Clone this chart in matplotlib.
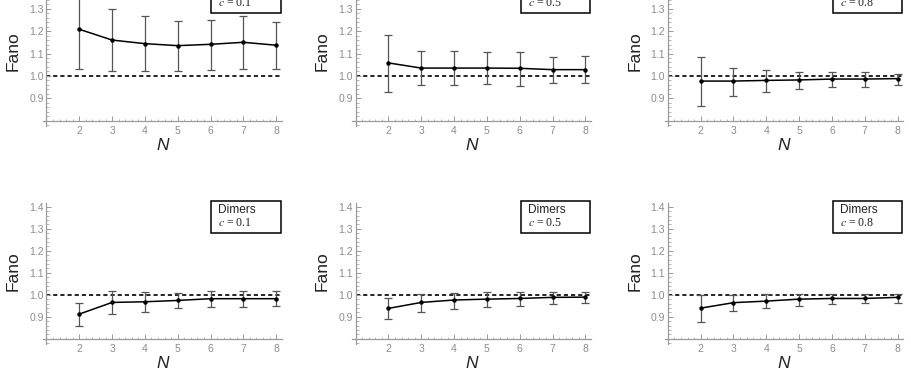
import matplotlib
matplotlib.use("Agg")
import matplotlib.pyplot as plt
import matplotlib.ticker as mticker
from matplotlib.patches import Rectangle
import numpy as np

plt.rcParams["font.family"] = ["Liberation Sans", "DejaVu Sans"]
plt.rcParams["mathtext.fontset"] = "stix"

# --- Data ---
N = [2, 3, 4, 5, 6, 7, 8]
c_values = ["0.1", "0.5", "0.8"]
# top row is cropped in the reference: its first box line is not visible
row_labels = ["", "Dimers"]

# top row
mono_01_mean = [1.208, 1.160, 1.144, 1.135, 1.141, 1.150, 1.137]
mono_01_lo = [1.031, 1.022, 1.021, 1.021, 1.026, 1.029, 1.029]
mono_01_hi = [1.385, 1.299, 1.269, 1.246, 1.251, 1.269, 1.242]

mono_05_mean = [1.058, 1.035, 1.035, 1.035, 1.034, 1.028, 1.028]
mono_05_lo = [0.927, 0.959, 0.961, 0.964, 0.955, 0.970, 0.967]
mono_05_hi = [1.184, 1.111, 1.110, 1.105, 1.108, 1.086, 1.090]

mono_08_mean = [0.977, 0.977, 0.980, 0.982, 0.986, 0.986, 0.988]
mono_08_lo = [0.866, 0.912, 0.929, 0.940, 0.949, 0.949, 0.961]
mono_08_hi = [1.084, 1.037, 1.026, 1.017, 1.019, 1.017, 1.008]

# bottom row (dimers)
dim_01_mean = [0.912, 0.965, 0.968, 0.974, 0.982, 0.982, 0.982]
dim_01_lo = [0.858, 0.911, 0.923, 0.938, 0.942, 0.945, 0.948]
dim_01_hi = [0.962, 1.018, 1.012, 1.008, 1.017, 1.017, 1.017]

dim_05_mean = [0.938, 0.965, 0.976, 0.980, 0.983, 0.988, 0.989]
dim_05_lo = [0.888, 0.920, 0.936, 0.945, 0.948, 0.959, 0.961]
dim_05_hi = [0.983, 1.005, 1.009, 1.012, 1.014, 1.014, 1.012]

dim_08_mean = [0.939, 0.964, 0.971, 0.980, 0.983, 0.983, 0.988]
dim_08_lo = [0.877, 0.924, 0.938, 0.950, 0.958, 0.961, 0.964]
dim_08_hi = [1.000, 0.998, 1.005, 1.005, 1.005, 1.005, 1.005]

yticks_top = [0.9, 1.0, 1.1, 1.2, 1.3]
yticks_bottom = [0.9, 1.0, 1.1, 1.2, 1.3, 1.4]

panels = [
    [(mono_01_mean, mono_01_lo, mono_01_hi),
     (mono_05_mean, mono_05_lo, mono_05_hi),
     (mono_08_mean, mono_08_lo, mono_08_hi)],
    [(dim_01_mean, dim_01_lo, dim_01_hi),
     (dim_05_mean, dim_05_lo, dim_05_hi),
     (dim_08_mean, dim_08_lo, dim_08_hi)],
]

# --- Layout (pixels, figure is 912x377) ---
W, H = 912, 377
col_x0 = [43.2, 352.4, 664.6]
col_w = 238.5
row_y0 = [251.1, 33.2]      # from bottom
row_h = [143.0, 140.4]

axis_grey = "#9a9a9a"
label_grey = "#8c8c8c"

fig = plt.figure(figsize=(W / 100, H / 100), dpi=100)

for r in range(2):
    for c in range(3):
        mean, lo, hi = panels[r][c]
        mean = np.array(mean)
        yerr = [mean - np.array(lo), np.array(hi) - mean]

        ax = fig.add_axes([col_x0[c] / W, row_y0[r] / H, col_w / W, row_h[r] / H])
        ax.set_xlim(0.9, 8.17)
        ax.set_ylim(0.777, 1.415)

        # Mathematica-style axes crossing at (1, 0.8)
        ax.spines["left"].set_position(("data", 1))
        ax.spines["bottom"].set_position(("data", 0.8))
        ax.spines["top"].set_visible(False)
        ax.spines["right"].set_visible(False)
        for s in ("left", "bottom"):
            ax.spines[s].set_color(axis_grey)
            ax.spines[s].set_linewidth(0.9)

        ax.set_xticks(N)
        ax.set_yticks(yticks_top if r == 0 else yticks_bottom)
        ax.yaxis.set_major_formatter(mticker.FormatStrFormatter("%.1f"))
        ax.xaxis.set_minor_locator(mticker.MultipleLocator(0.2))
        ax.yaxis.set_minor_locator(mticker.MultipleLocator(0.02))
        ax.tick_params(which="major", direction="in", length=3.5, width=0.7,
                       color=axis_grey, labelcolor=label_grey, labelsize=7.5)
        ax.tick_params(which="minor", direction="in", length=1.8, width=0.5,
                       color=axis_grey)
        ax.tick_params(axis="x", pad=3.5)
        ax.tick_params(axis="y", pad=2)

        ax.hlines(1.0, 1, 8.15, colors="black", linestyles=(0, (2.5, 1.8)),
                  linewidth=1.2, zorder=1)

        ax.errorbar(N, mean, yerr=yerr, fmt="none", ecolor="#555555",
                    elinewidth=0.9, capsize=3, capthick=0.9, zorder=2)
        ax.plot(N, mean, color="black", linewidth=1.1, marker="o",
                markersize=2.2, zorder=3)

        ax.text(-0.125, 0.52, "Fano", rotation=90, ha="center", va="center",
                fontsize=12.5, color="#222222", transform=ax.transAxes)
        ax.text(0.5, -0.137, "N", style="italic", ha="center", va="center",
                fontsize=12.5, color="#222222", transform=ax.transAxes)

        # label box
        ax.add_patch(Rectangle((0.705, 0.79), 0.292, 0.23, transform=ax.transAxes,
                               facecolor="white", edgecolor="black",
                               linewidth=1.1, clip_on=False, zorder=4))
        if row_labels[r]:
            ax.text(0.735, 0.951, row_labels[r], ha="left", va="center",
                    fontsize=8.6, color="#222222", transform=ax.transAxes, zorder=5)
        ax.text(0.735, 0.858, "$c$ = " + c_values[c], ha="left", va="center",
                fontsize=8.6, color="#222222", family=["Liberation Serif"],
                transform=ax.transAxes, zorder=5)

fig.savefig("out.png", dpi=100)
